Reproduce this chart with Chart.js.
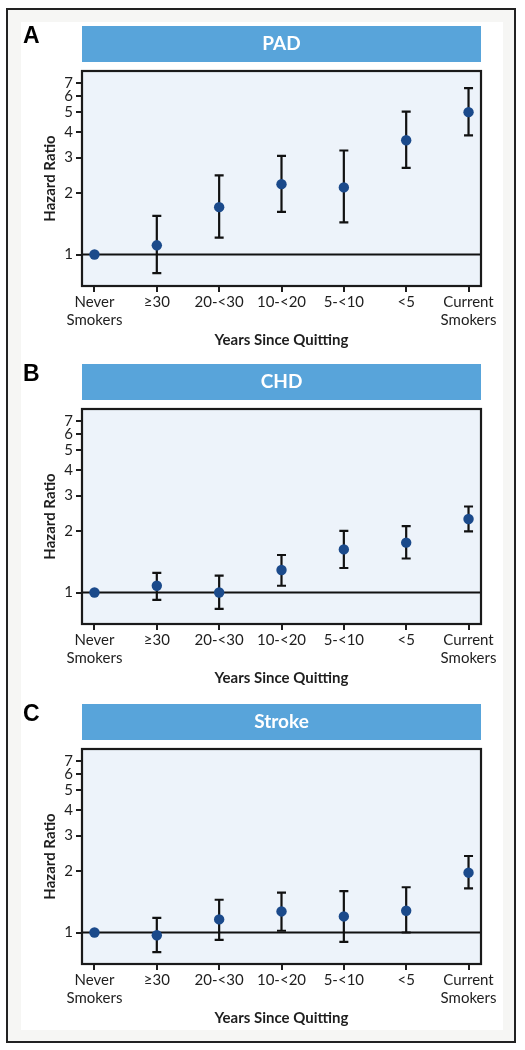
<!DOCTYPE html>
<html>
<head>
<meta charset="utf-8">
<script src="https://cdn.jsdelivr.net/npm/chart.js@4.4.0/dist/chart.umd.min.js"></script>
<style>
  body { margin: 0; background: #fff; }
  #frame { position: absolute; left: 6px; top: 8px; width: 506px; height: 1031px; border: 2px solid #222; background: #f6f6f4; }
  #inner { position: absolute; left: 21px; top: 22px; width: 482px; height: 1008px; background: #fff; }
  .panel { position: absolute; left: 0; width: 525px; height: 360px; }
</style>
</head>
<body>
<div id="frame"></div>
<div id="inner"></div>
<div class="panel" style="top:0px"><canvas id="pad" width="525" height="360"></canvas></div>
<div class="panel" style="top:338px"><canvas id="chd" width="525" height="360"></canvas></div>
<div class="panel" style="top:678px"><canvas id="stroke" width="525" height="360"></canvas></div>
<script>
// categorías y ticks
const categories = [['Never', 'Smokers'], '≥30', '20-<30', '10-<20', '5-<10', '<5', ['Current', 'Smokers']];
const yTicks = [1, 2, 3, 4, 5, 6, 7];

// PAD
const padHR    = [1, 1.11, 1.71, 2.22, 2.14, 3.65, 5.02];
const padLower = [null, 0.81, 1.21, 1.62, 1.44, 2.67, 3.86];
const padUpper = [null, 1.55, 2.45, 3.06, 3.25, 5.05, 6.59];

// CHD
const chdHR    = [1, 1.08, 1.00, 1.29, 1.63, 1.76, 2.30];
const chdLower = [null, 0.92, 0.83, 1.08, 1.32, 1.47, 2.00];
const chdUpper = [null, 1.25, 1.21, 1.53, 2.01, 2.12, 2.65];

// Stroke
const strokeHR    = [1, 0.97, 1.16, 1.27, 1.20, 1.28, 1.97];
const strokeLower = [null, 0.80, 0.92, 1.02, 0.90, 1.00, 1.65];
const strokeUpper = [null, 1.18, 1.45, 1.57, 1.60, 1.67, 2.38];

const tickFont = { family: 'Lato', size: 15 };
const titleFont = { family: 'Lato', size: 15, weight: 'bold' };
const ink = '#1e1e1e';

// fondo, barra de título y letra del panel
const panelPlugin = {
    id: 'panel',
    beforeDraw(chart, args, opts) {
        const { ctx, chartArea: a } = chart;
        ctx.save();
        ctx.fillStyle = '#edf3fa';
        ctx.fillRect(a.left, a.top, a.right - a.left, a.bottom - a.top);
        ctx.fillStyle = '#58a4da';
        ctx.fillRect(a.left, 26, a.right - a.left, 36);
        ctx.fillStyle = '#fff';
        ctx.font = 'bold 19px Lato';
        ctx.textAlign = 'center';
        ctx.textBaseline = 'middle';
        ctx.fillText(opts.title, (a.left + a.right) / 2, 44);
        ctx.fillStyle = '#000';
        ctx.font = 'bold 23px "Liberation Sans"';
        ctx.textAlign = 'left';
        ctx.textBaseline = 'alphabetic';
        ctx.fillText(opts.letter, 23, 43);
        ctx.restore();
    }
};

// barras de error y línea de referencia
const errorBarsPlugin = {
    id: 'errorBars',
    beforeDatasetsDraw(chart, args, opts) {
        const { ctx, chartArea: a, scales: { x, y } } = chart;
        ctx.save();
        ctx.strokeStyle = '#111';
        ctx.lineWidth = 2.2;
        const yRef = y.getPixelForValue(opts.ref);
        ctx.beginPath();
        ctx.moveTo(a.left, yRef);
        ctx.lineTo(a.right, yRef);
        ctx.stroke();
        opts.lower.forEach((lo, i) => {
            const hi = opts.upper[i];
            if (lo == null || hi == null) return;
            const px = x.getPixelForValue(i);
            const y0 = y.getPixelForValue(lo);
            const y1 = y.getPixelForValue(hi);
            ctx.beginPath();
            ctx.moveTo(px, y0); ctx.lineTo(px, y1);
            ctx.moveTo(px - 4.5, y0); ctx.lineTo(px + 4.5, y0);
            ctx.moveTo(px - 4.5, y1); ctx.lineTo(px + 4.5, y1);
            ctx.stroke();
        });
        ctx.restore();
    },
    afterDatasetsDraw(chart) {
        const { ctx, chartArea: a } = chart;
        ctx.save();
        ctx.strokeStyle = '#1a1a1a';
        ctx.lineWidth = 2.2;
        ctx.strokeRect(a.left, a.top, a.right - a.left, a.bottom - a.top);
        ctx.restore();
    }
};

function makeChart(id, letter, title, hr, lower, upper) {
    return new Chart(document.getElementById(id), {
        type: 'scatter',
        data: {
            datasets: [{
                data: hr.map((v, i) => ({ x: i, y: v })),
                backgroundColor: '#1b4a8b',
                borderWidth: 0,
                pointRadius: 5.2,
                pointHoverRadius: 5.2
            }]
        },
        options: {
            responsive: false,
            animation: false,
            layout: { padding: { top: 71, left: 22, right: 44, bottom: 10 } },
            scales: {
                x: {
                    type: 'linear',
                    min: -0.2,
                    max: categories.length - 0.8,
                    afterBuildTicks: s => { s.ticks = categories.map((_, i) => ({ value: i })); },
                    afterFit: s => { s.height = 64; },
                    ticks: {
                        callback: v => categories[v],
                        font: tickFont,
                        color: ink,
                        padding: 1,
                        maxRotation: 0,
                        autoSkip: false
                    },
                    grid: { drawOnChartArea: false, tickLength: 6, color: ink, lineWidth: 2 },
                    border: { display: false },
                    title: { display: true, text: 'Years Since Quitting', font: titleFont, color: ink, padding: { top: 0, bottom: 1 } }
                },
                y: {
                    type: 'logarithmic',
                    min: 0.7,
                    max: 8,
                    afterBuildTicks: s => { s.ticks = yTicks.map(v => ({ value: v })); },
                    afterFit: s => { s.width = 60; },
                    ticks: {
                        callback: v => String(v),
                        font: tickFont,
                        color: ink,
                        padding: 3,
                        autoSkip: false
                    },
                    grid: { drawOnChartArea: false, tickLength: 6, color: ink, lineWidth: 2 },
                    border: { display: false },
                    title: { display: true, text: 'Hazard Ratio', font: titleFont, color: ink, padding: { top: 19, bottom: 0 } }
                }
            },
            plugins: {
                legend: { display: false },
                tooltip: { enabled: false },
                panel: { letter: letter, title: title },
                errorBars: { lower: lower, upper: upper, ref: 1 }
            }
        },
        plugins: [panelPlugin, errorBarsPlugin]
    });
}

makeChart('pad', 'A', 'PAD', padHR, padLower, padUpper);
makeChart('chd', 'B', 'CHD', chdHR, chdLower, chdUpper);
makeChart('stroke', 'C', 'Stroke', strokeHR, strokeLower, strokeUpper);
</script>
</body>
</html>
